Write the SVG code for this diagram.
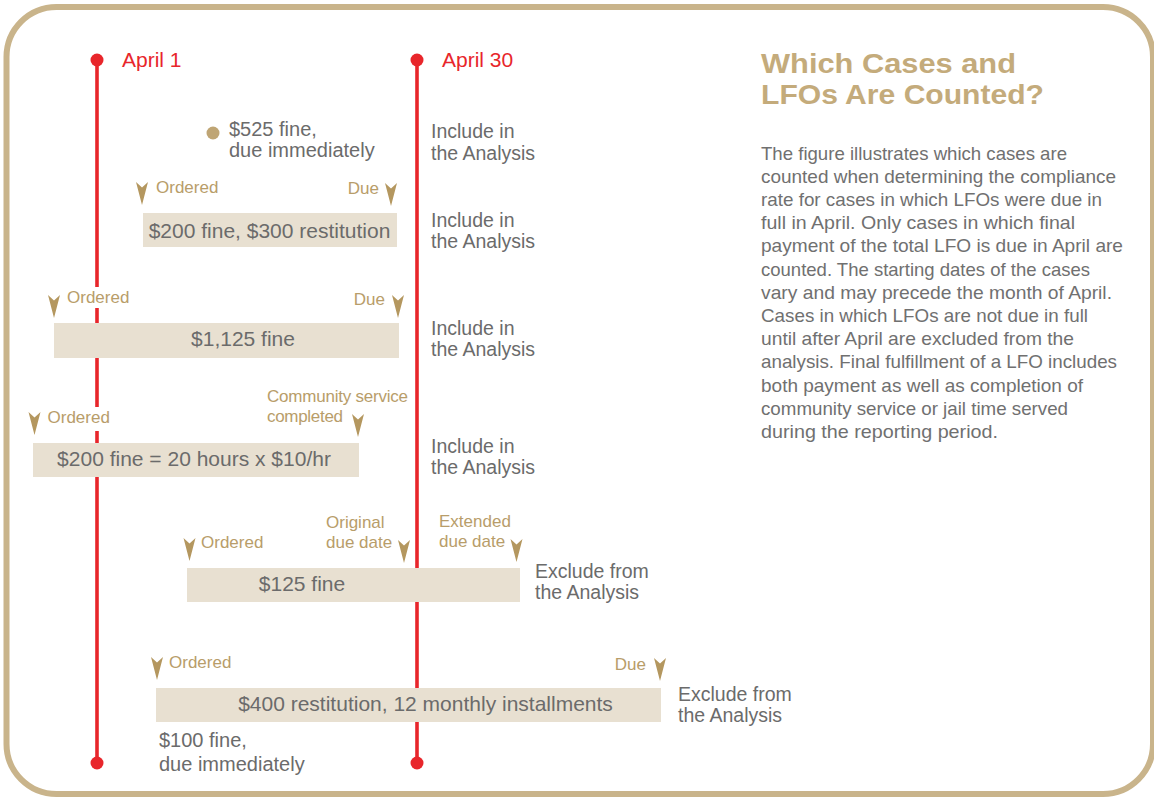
<svg xmlns="http://www.w3.org/2000/svg" xmlns:xlink="http://www.w3.org/1999/xlink" width="1154" height="798" viewBox="0 0 1154 798">
<style>
  .frame{fill:#fff;stroke:#c9b48b;stroke-width:6}
  .tl{stroke:#e8262b;stroke-width:3.6;fill:none}
  .dot{fill:#e8262b}
  .date{font-family:"Liberation Sans",Arial,sans-serif;font-size:21px;fill:#e8262b}
  .box{fill:#e8e0d1}
  .boxt{font-family:"Liberation Sans",Arial,sans-serif;font-size:21px;fill:#6b6b6b;text-anchor:middle}
  .lbl{font-family:"Liberation Sans",Arial,sans-serif;font-size:19.5px;fill:#6b6b6b}
  .note{font-family:"Liberation Sans",Arial,sans-serif;font-size:20px;fill:#6b6b6b}
  .tan{font-family:"Liberation Sans",Arial,sans-serif;font-size:17px;fill:#b89d6a}
  .end{text-anchor:end}
  .pin{fill:#b4975f}
  .ko{fill:#fff}
  .title{font-family:"Liberation Sans",Arial,sans-serif;font-size:28.5px;font-weight:bold;fill:#c4ab7b}
  .para{font-family:"Liberation Sans",Arial,sans-serif;font-size:18.5px;fill:#707070}
</style>
<defs>
  <path id="pin" class="pin" d="M-6,0 L0,5.5 L6,0 L0,23 Z"/>
</defs>
<rect class="frame" x="6.5" y="7" width="1146.5" height="787" rx="50" ry="50"/>

<g id="connectors">
  <line class="tl" x1="97" y1="60" x2="97" y2="763"/>
  <line class="tl" x1="417" y1="60" x2="417" y2="763"/>
  <circle class="dot" cx="97" cy="60" r="6.5"/>
  <circle class="dot" cx="97" cy="763" r="6.5"/>
  <circle class="dot" cx="417" cy="60" r="6.5"/>
  <circle class="dot" cx="417" cy="763" r="6.5"/>
</g>

<g id="april1"><text class="date" x="122" y="67">April 1</text></g>
<g id="april30"><text class="date" x="442" y="67">April 30</text></g>

<g id="case1">
  <circle cx="213" cy="133" r="6.5" fill="#bfa574"/>
  <text class="note" x="229" y="136">$525 fine,</text>
  <text class="note" x="229" y="157">due immediately</text>
  <text class="lbl" x="431" y="138">Include in</text>
  <text class="lbl" x="431" y="160">the Analysis</text>
</g>

<g id="case2">
  <use xlink:href="#pin" href="#pin" x="142" y="182"/>
  <text class="tan" x="156" y="193">Ordered</text>
  <text class="tan end" x="379" y="194">Due</text>
  <use xlink:href="#pin" href="#pin" x="391" y="183"/>
  <rect class="box" x="143" y="213" width="254" height="34"/>
  <text class="boxt" x="269.5" y="237.5">$200 fine, $300 restitution</text>
  <text class="lbl" x="431" y="227">Include in</text>
  <text class="lbl" x="431" y="248">the Analysis</text>
</g>

<g id="case3">
  <rect class="ko" x="64" y="287" width="70" height="21"/>
  <use xlink:href="#pin" href="#pin" x="54" y="295"/>
  <text class="tan" x="67" y="303">Ordered</text>
  <text class="tan end" x="385" y="305">Due</text>
  <use xlink:href="#pin" href="#pin" x="398" y="295"/>
  <rect class="box" x="54" y="323" width="345" height="35"/>
  <text class="boxt" x="243" y="345.5">$1,125 fine</text>
  <text class="lbl" x="431" y="335">Include in</text>
  <text class="lbl" x="431" y="356">the Analysis</text>
</g>

<g id="case4">
  <rect class="ko" x="44" y="407" width="70" height="24"/>
  <use xlink:href="#pin" href="#pin" x="34.5" y="412"/>
  <text class="tan" x="47.5" y="423">Ordered</text>
  <text class="tan" x="267" y="402" textLength="141">Community service</text>
  <text class="tan" x="267" y="422" textLength="76">completed</text>
  <use xlink:href="#pin" href="#pin" x="358" y="414"/>
  <rect class="box" x="33" y="443" width="326" height="34"/>
  <text class="boxt" x="194" y="466">$200 fine = 20 hours x $10/hr</text>
  <text class="lbl" x="431" y="453">Include in</text>
  <text class="lbl" x="431" y="474">the Analysis</text>
</g>

<g id="case5">
  <use xlink:href="#pin" href="#pin" x="189.5" y="538"/>
  <text class="tan" x="201" y="548">Ordered</text>
  <text class="tan" x="326" y="528">Original</text>
  <text class="tan" x="326" y="548">due date</text>
  <use xlink:href="#pin" href="#pin" x="404" y="540"/>
  <text class="tan" x="439" y="527">Extended</text>
  <text class="tan" x="439" y="547">due date</text>
  <use xlink:href="#pin" href="#pin" x="516.5" y="539"/>
  <rect class="box" x="187" y="568" width="333" height="34"/>
  <text class="boxt" x="302" y="591">$125 fine</text>
  <text class="lbl" x="535" y="578">Exclude from</text>
  <text class="lbl" x="535" y="599">the Analysis</text>
</g>

<g id="case6">
  <use xlink:href="#pin" href="#pin" x="157" y="657"/>
  <text class="tan" x="169" y="668">Ordered</text>
  <text class="tan end" x="646" y="670">Due</text>
  <use xlink:href="#pin" href="#pin" x="660" y="658"/>
  <rect class="box" x="156" y="688" width="505" height="34"/>
  <text class="boxt" x="425.5" y="710.5">$400 restitution, 12 monthly installments</text>
  <text class="lbl" x="678" y="701">Exclude from</text>
  <text class="lbl" x="678" y="722">the Analysis</text>
  <text class="note" x="159" y="747">$100 fine,</text>
  <text class="note" x="159" y="771">due immediately</text>
</g>

<g id="sidebar">
  <text class="title" x="761" y="73" textLength="255" lengthAdjust="spacingAndGlyphs">Which Cases and</text>
  <text class="title" x="761" y="104" textLength="283" lengthAdjust="spacingAndGlyphs">LFOs Are Counted?</text>
  <text class="para" x="761" y="159.5" textLength="306" lengthAdjust="spacingAndGlyphs">The figure illustrates which cases are</text>
  <text class="para" x="761" y="182.7" textLength="355" lengthAdjust="spacingAndGlyphs">counted when determining the compliance</text>
  <text class="para" x="761" y="205.9" textLength="341" lengthAdjust="spacingAndGlyphs">rate for cases in which LFOs were due in</text>
  <text class="para" x="761" y="229.1" textLength="314" lengthAdjust="spacingAndGlyphs">full in April. Only cases in which final</text>
  <text class="para" x="761" y="252.3" textLength="362" lengthAdjust="spacingAndGlyphs">payment of the total LFO is due in April are</text>
  <text class="para" x="761" y="275.5" textLength="329" lengthAdjust="spacingAndGlyphs">counted. The starting dates of the cases</text>
  <text class="para" x="761" y="298.7" textLength="351" lengthAdjust="spacingAndGlyphs">vary and may precede the month of April.</text>
  <text class="para" x="761" y="321.9" textLength="327" lengthAdjust="spacingAndGlyphs">Cases in which LFOs are not due in full</text>
  <text class="para" x="761" y="345.1" textLength="313" lengthAdjust="spacingAndGlyphs">until after April are excluded from the</text>
  <text class="para" x="761" y="368.3" textLength="356" lengthAdjust="spacingAndGlyphs">analysis. Final fulfillment of a LFO includes</text>
  <text class="para" x="761" y="391.5" textLength="322" lengthAdjust="spacingAndGlyphs">both payment as well as completion of</text>
  <text class="para" x="761" y="414.7" textLength="307" lengthAdjust="spacingAndGlyphs">community service or jail time served</text>
  <text class="para" x="761" y="437.9" textLength="237" lengthAdjust="spacingAndGlyphs">during the reporting period.</text>
</g>
</svg>
